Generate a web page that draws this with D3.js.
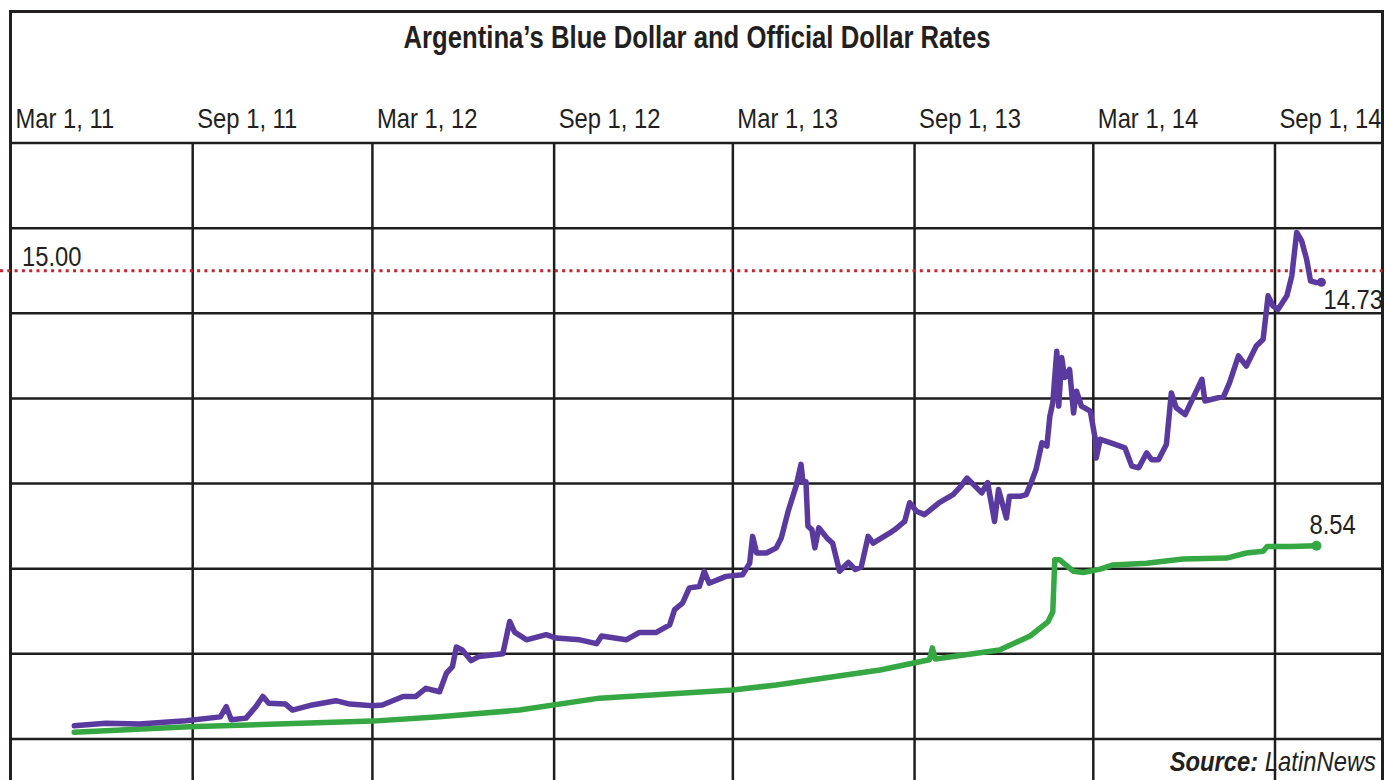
<!DOCTYPE html>
<html>
<head>
<meta charset="utf-8">
<script src="https://cdn.jsdelivr.net/npm/d3@7"></script>
<style>
body { margin: 0; background: #fff; }
text { font-family: "Liberation Sans", Arial, Helvetica, sans-serif; fill: #231f20; }
</style>
</head>
<body>
<div id="chart"></div>
<script>
var w = 1385;
var h = 780;

var title = "Argentina’s Blue Dollar and Official Dollar Rates";
var tickDates = ["2011-03-01", "2011-09-01", "2012-03-01", "2012-09-01", "2013-03-01", "2013-09-01", "2014-03-01", "2014-09-01"];
var gridValues = [4, 6, 8, 10, 12, 14, 16, 18];
var refValue = 15.00;

// blue (informal) dollar, pesos per USD
var blueDates = [
  "2011-05-04", "2011-06-05", "2011-07-09", "2011-08-25", "2011-09-29", "2011-10-05", "2011-10-10", "2011-10-25",
  "2011-11-04", "2011-11-11", "2011-11-17", "2011-12-04", "2011-12-11", "2011-12-31", "2012-01-24", "2012-02-07",
  "2012-03-01", "2012-03-11", "2012-04-01", "2012-04-14", "2012-04-24", "2012-05-08", "2012-05-15", "2012-05-21",
  "2012-05-25", "2012-05-31", "2012-06-09", "2012-06-17", "2012-07-11", "2012-07-18", "2012-07-23", "2012-08-04",
  "2012-08-24", "2012-09-03", "2012-09-27", "2012-10-14", "2012-10-19", "2012-11-13", "2012-11-26", "2012-12-13",
  "2012-12-27", "2013-01-01", "2013-01-09", "2013-01-16", "2013-01-26", "2013-01-31", "2013-02-05", "2013-02-22",
  "2013-03-11", "2013-03-18", "2013-03-21", "2013-03-25", "2013-04-04", "2013-04-14", "2013-04-19", "2013-04-26",
  "2013-05-04", "2013-05-09", "2013-05-11", "2013-05-14", "2013-05-16", "2013-05-20", "2013-05-23", "2013-05-27",
  "2013-06-04", "2013-06-10", "2013-06-17", "2013-06-26", "2013-07-03", "2013-07-09", "2013-07-16", "2013-07-21",
  "2013-08-07", "2013-08-12", "2013-08-22", "2013-08-27", "2013-09-03", "2013-09-11", "2013-09-26", "2013-10-10",
  "2013-10-18", "2013-10-24", "2013-11-03", "2013-11-08", "2013-11-14", "2013-11-21", "2013-11-25", "2013-12-03",
  "2013-12-06", "2013-12-17", "2013-12-23", "2013-12-28", "2014-01-02", "2014-01-08", "2014-01-13", "2014-01-16",
  "2014-01-19", "2014-01-23", "2014-01-25", "2014-01-28", "2014-01-31", "2014-02-05", "2014-02-09", "2014-02-12",
  "2014-02-17", "2014-02-26", "2014-03-03", "2014-03-04", "2014-03-08", "2014-03-18", "2014-04-02", "2014-04-09",
  "2014-04-16", "2014-04-24", "2014-04-29", "2014-05-06", "2014-05-14", "2014-05-19", "2014-05-24", "2014-06-02",
  "2014-06-19", "2014-06-22", "2014-07-11", "2014-07-17", "2014-07-26", "2014-08-03", "2014-08-13", "2014-08-20",
  "2014-08-25", "2014-08-30", "2014-09-04", "2014-09-13", "2014-09-18", "2014-09-23", "2014-09-28", "2014-10-03",
  "2014-10-07", "2014-10-13", "2014-10-18"
];
var blueValues = [
  4.31, 4.37, 4.35, 4.43, 4.52, 4.76, 4.45, 4.49,
  4.76, 5.00, 4.84, 4.82, 4.68, 4.80, 4.90, 4.82,
  4.78, 4.80, 5.00, 5.00, 5.19, 5.11, 5.55, 5.70,
  6.16, 6.09, 5.84, 5.94, 6.00, 6.76, 6.51, 6.33,
  6.45, 6.37, 6.33, 6.24, 6.42, 6.33, 6.50, 6.50,
  6.68, 7.04, 7.19, 7.55, 7.58, 7.94, 7.66, 7.82,
  7.86, 8.13, 8.76, 8.37, 8.37, 8.49, 8.72, 9.35,
  9.94, 10.45, 10.04, 10.04, 9.00, 8.92, 8.49, 8.96,
  8.73, 8.60, 7.94, 8.15, 7.98, 8.04, 8.76, 8.60,
  8.84, 8.92, 9.11, 9.55, 9.35, 9.27, 9.55, 9.74,
  9.94, 10.13, 9.90, 9.78, 10.02, 9.11, 9.86, 9.19,
  9.70, 9.70, 9.74, 10.02, 10.33, 10.96, 10.88, 11.58,
  11.90, 13.11, 11.82, 12.96, 12.49, 12.68, 11.66, 12.17,
  11.82, 11.70, 11.04, 10.60, 11.04, 10.96, 10.84, 10.41,
  10.37, 10.72, 10.56, 10.56, 10.92, 12.13, 11.78, 11.62,
  12.45, 11.94, 12.05, 12.37, 13.00, 12.76, 13.23, 13.39,
  14.41, 14.17, 14.09, 14.41, 14.88, 15.90, 15.70, 15.27,
  14.76, 14.72, 14.73
];

// official dollar
var officialDates = [
  "2011-05-04", "2011-08-28", "2012-03-01", "2012-05-08", "2012-07-28", "2012-10-17", "2013-03-01", "2013-04-14",
  "2013-07-28", "2013-09-16", "2013-09-19", "2013-09-22", "2013-11-26", "2013-12-27", "2014-01-14", "2014-01-19",
  "2014-01-21", "2014-01-26", "2014-02-09", "2014-02-19", "2014-03-08", "2014-03-21", "2014-04-24", "2014-05-31",
  "2014-07-14", "2014-08-03", "2014-08-20", "2014-08-24", "2014-09-16", "2014-10-13"
];
var officialValues = [
  4.16, 4.29, 4.42, 4.52, 4.68, 4.96, 5.15, 5.27,
  5.62, 5.86, 6.14, 5.88, 6.09, 6.42, 6.75, 6.99,
  8.21, 8.21, 7.94, 7.91, 7.99, 8.09, 8.13, 8.23,
  8.25, 8.37, 8.41, 8.52, 8.52, 8.54
];

var parse = d3.timeParse("%Y-%m-%d");
var blue = blueDates.map(function(d, i) { return { date: parse(d), value: blueValues[i] }; });
var official = officialDates.map(function(d, i) { return { date: parse(d), value: officialValues[i] }; });
var ticks = tickDates.map(parse);

var x = d3.scaleTime()
    .domain([ticks[0], ticks[ticks.length - 1]])
    .range([11, 1275]);
var y = d3.scaleLinear()
    .domain([4, 18])
    .range([739, 143]);

// squeeze text horizontally to look like a condensed face
function condense(sel, k) {
    sel.each(function() {
        var len = this.getComputedTextLength();
        d3.select(this)
            .attr("textLength", len * k)
            .attr("lengthAdjust", "spacingAndGlyphs");
    });
}

var svg = d3.select("#chart")
    .append("svg")
    .attr("width", w)
    .attr("height", h);

// grid
svg.selectAll("line.hgrid")
    .data(gridValues)
    .enter()
    .append("line")
    .attr("class", "hgrid")
    .attr("x1", 10)
    .attr("x2", 1383)
    .attr("y1", function(d) { return y(d); })
    .attr("y2", function(d) { return y(d); })
    .attr("stroke", "#1e1e1e")
    .attr("stroke-width", 2.5);

svg.selectAll("line.vgrid")
    .data(ticks.slice(1))
    .enter()
    .append("line")
    .attr("class", "vgrid")
    .attr("x1", function(d) { return x(d); })
    .attr("x2", function(d) { return x(d); })
    .attr("y1", y(18))
    .attr("y2", h)
    .attr("stroke", "#1e1e1e")
    .attr("stroke-width", 2.5);

// frame
svg.append("path")
    .attr("d", "M10.5," + h + "V11.5H1382.5V" + h)
    .attr("fill", "none")
    .attr("stroke", "#231f20")
    .attr("stroke-width", 3);

// title
var tt = svg.append("text")
    .attr("x", 697)
    .attr("y", 48)
    .attr("text-anchor", "middle")
    .style("font-size", "31px")
    .style("font-weight", "bold")
    .text(title);
condense(tt, 587 / tt.node().getComputedTextLength());

// date labels
var fmt = d3.timeFormat("%b %-d, %y");
var xAxis = d3.axisTop(x)
    .tickValues(ticks)
    .tickSize(0)
    .tickFormat(fmt);
var gx = svg.append("g")
    .attr("transform", "translate(0,128)")
    .call(xAxis);
gx.select(".domain").remove();
gx.selectAll("text")
    .attr("text-anchor", "start")
    .attr("dx", 4)
    .attr("dy", 0)
    .attr("y", 0)
    .attr("fill", "#231f20")
    .style("font-size", "28px")
    .style("font-family", "'Liberation Sans', Arial, sans-serif");
condense(gx.selectAll("text"), 0.85);

// 15.00 reference
svg.append("line")
    .attr("x1", 0)
    .attr("x2", w)
    .attr("y1", y(refValue))
    .attr("y2", y(refValue))
    .attr("stroke", "#c4262e")
    .attr("stroke-width", 3)
    .attr("stroke-dasharray", "3,4.3");
var refLabel = svg.append("text")
    .attr("x", 22)
    .attr("y", y(refValue) - 5)
    .style("font-size", "28px")
    .text(d3.format(".2f")(refValue));
condense(refLabel, 0.85);

// lines
var line = d3.line()
    .x(function(d) { return x(d.date); })
    .y(function(d) { return y(d.value); });

svg.append("path")
    .datum(official)
    .attr("d", line)
    .attr("fill", "none")
    .attr("stroke", "#35a844")
    .attr("stroke-width", 5.5)
    .attr("stroke-linejoin", "round")
    .attr("stroke-linecap", "round");

svg.append("path")
    .datum(blue)
    .attr("d", line)
    .attr("fill", "none")
    .attr("stroke", "#5a3a9e")
    .attr("stroke-width", 5.5)
    .attr("stroke-linejoin", "round")
    .attr("stroke-linecap", "round");

var lastOff = official[official.length - 1];
var lastBlue = blue[blue.length - 1];
svg.append("circle")
    .attr("cx", x(lastOff.date))
    .attr("cy", y(lastOff.value))
    .attr("r", 5)
    .attr("fill", "#35a844");
svg.append("circle")
    .attr("cx", x(lastBlue.date))
    .attr("cy", y(lastBlue.value))
    .attr("r", 4.5)
    .attr("fill", "#5a3a9e");

var blueLabel = svg.append("text")
    .attr("x", 1383)
    .attr("y", y(lastBlue.value) + 27)
    .attr("text-anchor", "end")
    .style("font-size", "28px")
    .text(d3.format(".2f")(lastBlue.value));
condense(blueLabel, 0.85);
var offLabel = svg.append("text")
    .attr("x", x(lastOff.date) - 7)
    .attr("y", y(lastOff.value) - 12)
    .style("font-size", "28px")
    .text(d3.format(".2f")(lastOff.value));
condense(offLabel, 0.85);

// source
var src = svg.append("text")
    .attr("x", 1376)
    .attr("y", 771)
    .attr("text-anchor", "end")
    .style("font-size", "28px")
    .style("font-style", "italic");
src.append("tspan").style("font-weight", "bold").text("Source:");
src.append("tspan").text(" LatinNews");
condense(src, 0.85);
</script>
</body>
</html>
